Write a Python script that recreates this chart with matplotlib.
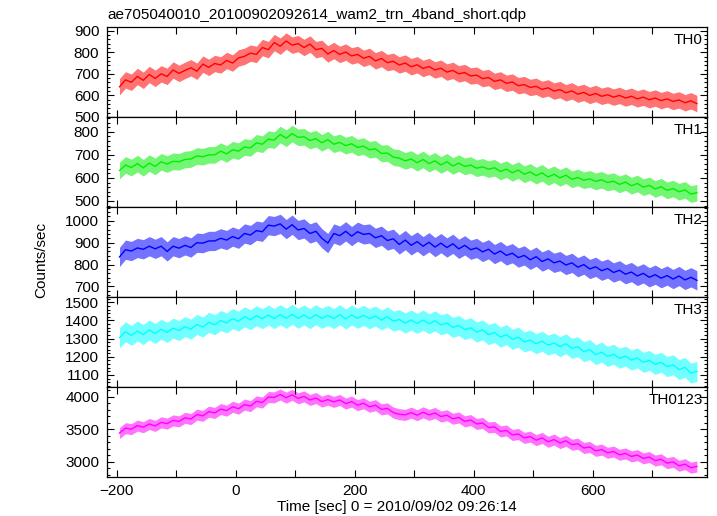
"""Light curve of 4 WAM energy bands (QDP style stacked panels)"""
import numpy as np
import matplotlib
matplotlib.use("Agg")
import matplotlib.pyplot as plt
from matplotlib.ticker import MultipleLocator

plt.rcParams["font.family"] = ["Liberation Sans", "DejaVu Sans"]

# time bins [sec] 0 = 2010/09/02 09:26:14
time = np.arange(-195, 776, 10)

th0 = [640, 672, 661, 688, 670, 697, 679, 700, 688, 718, 702, 716, 728, 712, 745, 730,
       748, 741, 762, 750, 774, 781, 796, 790, 822, 812, 845, 828, 852, 833, 840, 822,
       838, 812, 818, 792, 808, 790, 801, 783, 790, 772, 781, 760, 771, 752, 758, 741,
       750, 733, 742, 725, 734, 718, 726, 708, 716, 700, 706, 690, 694, 678, 683, 665,
       672, 656, 662, 645, 650, 637, 642, 628, 635, 620, 627, 612, 621, 606, 614, 600,
       609, 596, 603, 592, 600, 588, 596, 584, 592, 580, 588, 576, 584, 572, 579, 566,
       575, 562]
th1 = [632, 656, 645, 662, 644, 664, 650, 670, 660, 672, 670, 680, 682, 695, 692, 700,
       700, 716, 704, 722, 716, 734, 730, 752, 746, 768, 764, 788, 772, 792, 776, 778,
       762, 770, 752, 766, 746, 754, 740, 748, 732, 738, 722, 726, 706, 708, 690, 686,
       674, 682, 666, 680, 662, 674, 656, 670, 652, 664, 650, 656, 642, 648, 638, 644,
       628, 638, 622, 634, 616, 626, 610, 622, 604, 616, 600, 612, 594, 602, 590, 596,
       585, 592, 580, 586, 572, 582, 566, 576, 560, 568, 552, 562, 546, 554, 540, 548,
       530, 536]
th2 = [835, 868, 862, 876, 870, 884, 872, 884, 860, 884, 875, 888, 878, 900, 898, 908,
       908, 920, 912, 928, 918, 942, 935, 955, 950, 980, 976, 986, 962, 982, 958, 965,
       942, 952, 920, 898, 942, 932, 952, 930, 950, 938, 942, 922, 932, 910, 918, 892,
       912, 888, 905, 884, 902, 880, 898, 878, 895, 872, 888, 868, 876, 858, 870, 848,
       862, 842, 852, 832, 842, 822, 836, 814, 826, 808, 816, 798, 808, 788, 800, 780,
       790, 772, 782, 764, 774, 756, 766, 748, 760, 742, 754, 738, 750, 734, 748, 730,
       742, 728]
th3 = [1305, 1338, 1318, 1342, 1322, 1348, 1328, 1352, 1334, 1358, 1344, 1366, 1352, 1378,
       1364, 1390, 1376, 1400, 1386, 1410, 1396, 1420, 1404, 1426, 1410, 1430, 1410, 1432,
       1412, 1434, 1412, 1430, 1410, 1432, 1412, 1428, 1410, 1432, 1408, 1430, 1412, 1428,
       1410, 1424, 1402, 1420, 1396, 1405, 1386, 1402, 1384, 1402, 1382, 1398, 1376, 1386,
       1362, 1372, 1350, 1360, 1336, 1348, 1322, 1334, 1308, 1322, 1296, 1308, 1282, 1292,
       1272, 1286, 1264, 1276, 1256, 1272, 1246, 1256, 1228, 1240, 1212, 1226, 1202, 1214,
       1192, 1204, 1182, 1194, 1170, 1180, 1158, 1170, 1146, 1156, 1130, 1142, 1110, 1120]
th0123 = [3440, 3515, 3500, 3555, 3530, 3580, 3550, 3605, 3585, 3635, 3620, 3675, 3655,
          3725, 3705, 3770, 3750, 3810, 3785, 3845, 3815, 3880, 3855, 3930, 3910, 3995,
          3990, 4035, 3985, 4030, 3975, 4005, 3950, 3980, 3925, 3955, 3920, 3950, 3895,
          3925, 3870, 3900, 3845, 3870, 3805, 3820, 3755, 3730, 3720, 3755, 3715, 3760,
          3720, 3750, 3695, 3715, 3660, 3680, 3620, 3640, 3580, 3595, 3525, 3535, 3465,
          3480, 3410, 3425, 3365, 3385, 3330, 3365, 3305, 3340, 3285, 3320, 3260, 3275,
          3210, 3225, 3165, 3185, 3135, 3155, 3105, 3125, 3080, 3100, 3050, 3070, 3015,
          3035, 2975, 2995, 2935, 2960, 2905, 2925]

band_names = ["TH0", "TH1", "TH2", "TH3", "TH0123"]
band_errors = [38, 36, 44, 55, 85]
band_colors = ["#ff0000", "#00f000", "#0000ff", "#00ffff", "#ff00ff"]
band_ylims = [(500, 917), (474, 864), (652, 1063), (1034, 1529), (2762, 4150)]
band_major = [100, 100, 100, 100, 500]
band_minor = [20, 20, 20, 20, 100]
rates = [th0, th1, th2, th3, th0123]

fig = plt.figure(figsize=(7.17, 5.16), dpi=100)
left, width = 107 / 717, 600 / 717
panel_h = 90 / 516
top = 1 - 27 / 516

axes = []
for k in range(5):
    ax = fig.add_axes([left, top - (k + 1) * panel_h, width, panel_h],
                      sharex=axes[0] if axes else None)
    axes.append(ax)
    rate = np.array(rates[k])
    err = band_errors[k]
    ax.fill_between(time, rate - err, rate + err,
                    color=band_colors[k], alpha=0.55, linewidth=0)
    ax.plot(time, rate, color=band_colors[k], linewidth=1.0)
    ax.set_ylim(*band_ylims[k])
    ax.yaxis.set_major_locator(MultipleLocator(band_major[k]))
    ax.yaxis.set_minor_locator(MultipleLocator(band_minor[k]))
    ax.xaxis.set_major_locator(MultipleLocator(200))
    ax.xaxis.set_minor_locator(MultipleLocator(100))
    ax.tick_params(which="both", direction="in", top=True, right=True,
                   labelsize=11, width=0.8)
    ax.tick_params(axis="y", pad=5.5)
    ax.tick_params(axis="x", pad=5)
    ax.tick_params(which="major", length=5)
    ax.tick_params(which="minor", axis="y", length=2.5)
    ax.tick_params(which="minor", axis="x", length=5)
    for sp in ax.spines.values():
        sp.set_linewidth(0.9)
    ax.text(0.993, 0.93, band_names[k], transform=ax.transAxes,
            ha="right", va="top", fontsize=11)
    if k < 4:
        ax.tick_params(labelbottom=False)

axes[0].set_xlim(-216, 792)

fig.text(107 / 717, 1 - 15 / 516, "ae705040010_20100902092614_wam2_trn_4band_short.qdp",
         ha="left", va="center", fontsize=11)
fig.text(41 / 717, 1 - 260 / 516, "Counts/sec", rotation=90,
         ha="center", va="center", fontsize=11)
fig.text(397 / 717, 1 - 507 / 516, "Time [sec] 0 = 2010/09/02 09:26:14",
         ha="center", va="center", fontsize=11)

fig.savefig("out.png", dpi=100)
